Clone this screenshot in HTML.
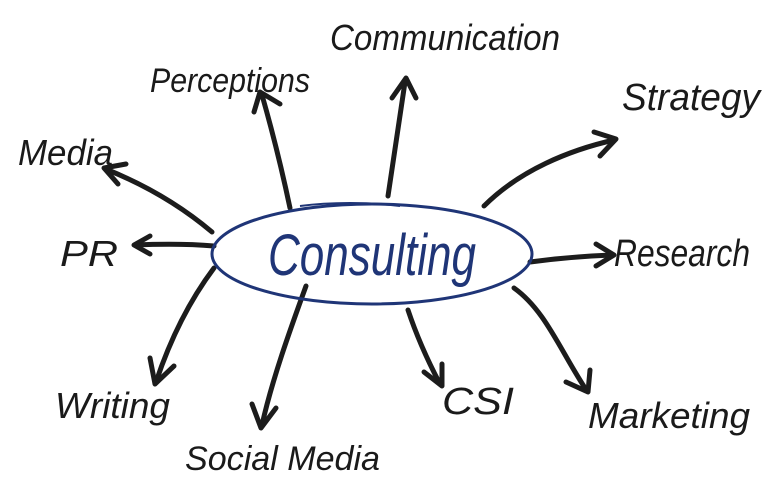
<!DOCTYPE html>
<html><head><meta charset="utf-8"><style>
html,body{margin:0;padding:0;background:#fff;width:777px;height:492px;overflow:hidden}
svg{display:block}
text{font-family:"Liberation Sans",sans-serif;font-style:italic;fill:#1a1a1a}
</style></head><body>
<svg width="777" height="492" viewBox="0 0 777 492" xmlns="http://www.w3.org/2000/svg">
<g fill="none" stroke="#1c1c1c" stroke-width="5" stroke-linecap="round" stroke-linejoin="round">
<!-- Communication -->
<path d="M388 196 C395 150 400 115 405 82"/><path d="M392 98 L406 78 L416 98"/>
<!-- Perceptions -->
<path d="M290 208 C282 170 272 130 262 95"/><path d="M254 112 L260 92 L280 104"/>
<!-- Media -->
<path d="M212 232 C180 205 145 185 108 170"/><path d="M118 184 L104 168 L126 164"/>
<!-- PR -->
<path d="M214 246 C190 244 160 244 136 245"/><path d="M150 236 L134 245 L150 254"/>
<!-- Writing -->
<path d="M214 268 C190 300 170 340 156 382"/><path d="M150 358 L155 384 L174 366"/>
<!-- Social Media -->
<path d="M306 286 C290 330 272 380 262 425"/><path d="M252 404 L261 428 L276 408"/>
<!-- CSI -->
<path d="M408 310 C418 340 430 365 440 384"/><path d="M424 372 L442 386 L442 364"/>
<!-- Marketing -->
<path d="M514 288 C545 310 560 350 585 388"/><path d="M566 382 L588 392 L590 370"/>
<!-- Research -->
<path d="M530 262 C560 258 585 256 612 255"/><path d="M596 244 L614 255 L596 266"/>
<!-- Strategy -->
<path d="M484 206 C520 170 570 150 614 140"/><path d="M594 132 L616 139 L600 156"/>
</g>
<ellipse cx="372" cy="254" rx="160" ry="50" fill="none" stroke="#1f3577" stroke-width="3"/>
<path d="M300 206 C330 202 370 202 400 206" fill="none" stroke="#1f3577" stroke-width="2"/>
<text x="268" y="275" font-size="58" textLength="208" lengthAdjust="spacingAndGlyphs" style="fill:#1f3577">Consulting</text>
<text x="330" y="50" font-size="36" textLength="230" lengthAdjust="spacingAndGlyphs">Communication</text>
<text x="150" y="92" font-size="34" textLength="160" lengthAdjust="spacingAndGlyphs">Perceptions</text>
<text x="622" y="110" font-size="38" textLength="138" lengthAdjust="spacingAndGlyphs">Strategy</text>
<text x="18" y="165" font-size="36" textLength="95" lengthAdjust="spacingAndGlyphs">Media</text>
<text x="60" y="266" font-size="36" textLength="58" lengthAdjust="spacingAndGlyphs">PR</text>
<text x="614" y="266" font-size="38" textLength="136" lengthAdjust="spacingAndGlyphs">Research</text>
<text x="55" y="418" font-size="36" textLength="115" lengthAdjust="spacingAndGlyphs">Writing</text>
<text x="185" y="470" font-size="34" textLength="195" lengthAdjust="spacingAndGlyphs">Social Media</text>
<text x="442" y="414" font-size="38" textLength="72" lengthAdjust="spacingAndGlyphs">CSI</text>
<text x="588" y="428" font-size="36" textLength="162" lengthAdjust="spacingAndGlyphs">Marketing</text>
</svg>
</body></html>
